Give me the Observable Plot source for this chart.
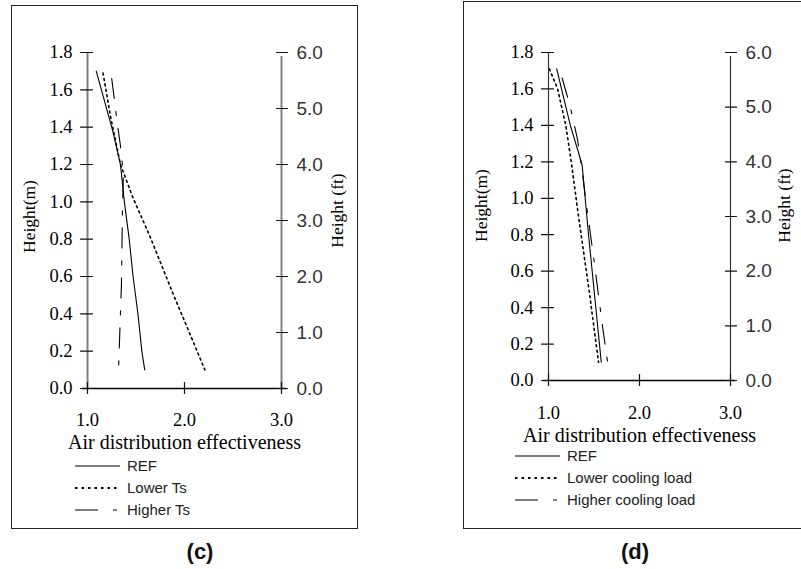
<!DOCTYPE html>
<html>
<head>
<meta charset="utf-8">
<script src="https://cdn.jsdelivr.net/npm/d3@7"></script>
<script src="https://cdn.jsdelivr.net/npm/@observablehq/plot@0.6"></script>
<style>
  html, body { margin: 0; padding: 0; background: #fff; }
  #root { position: relative; width: 801px; height: 569px; overflow: hidden; background: #fff; }
  .box { position: absolute; border: 1.5px solid #222; box-sizing: border-box; }
  .plotwrap { position: absolute; width: 346px; }
  .plotwrap svg { max-width: none !important; }
  .caption { position: absolute; font-family: "Liberation Sans", Arial, sans-serif; font-weight: bold; font-size: 22px; color: #111; transform: translate(-50%, -50%); }
  .legend { position: absolute; left: 0; top: 0; }
</style>
</head>
<body>
<div id="root"></div>
<script>
// ---------- DATA ----------
// Panel (c)
const cRefX    = [1.09, 1.17, 1.26, 1.34, 1.38, 1.43, 1.47, 1.52, 1.56, 1.59];
const cRefY    = [1.70, 1.55, 1.38, 1.20, 1.00, 0.80, 0.60, 0.40, 0.20, 0.10];
const cLowerX  = [1.16, 1.24, 1.34, 1.47, 1.64, 1.88, 2.05, 2.21];
const cLowerY  = [1.69, 1.45, 1.20, 1.02, 0.82, 0.51, 0.30, 0.10];
const cHigherX = [1.25, 1.31, 1.34, 1.37, 1.36, 1.35, 1.32];
const cHigherY = [1.66, 1.41, 1.30, 1.15, 0.94, 0.56, 0.10];
const cLegend  = ["REF", "Lower Ts", "Higher Ts"];
// Panel (d)
const dRefX    = [1.09, 1.24, 1.33, 1.37, 1.44, 1.51, 1.58];
const dRefY    = [1.71, 1.40, 1.25, 1.18, 0.80, 0.45, 0.10];
const dLowerX  = [1.01, 1.10, 1.19, 1.25, 1.33, 1.45, 1.55];
const dLowerY  = [1.71, 1.60, 1.40, 1.20, 0.90, 0.48, 0.10];
const dHigherX = [1.15, 1.24, 1.32, 1.37, 1.41, 1.50, 1.59, 1.65];
const dHigherY = [1.66, 1.50, 1.32, 1.15, 0.99, 0.66, 0.31, 0.10];
const dLegend  = ["REF", "Lower cooling load", "Higher cooling load"];
// Axes
const xTicks   = [1.0, 2.0, 3.0];
const mTicks   = [0.0, 0.2, 0.4, 0.6, 0.8, 1.0, 1.2, 1.4, 1.6, 1.8];
const ftTicks  = [0.0, 1.0, 2.0, 3.0, 4.0, 5.0, 6.0];
const M_PER_FT_AXIS = 1.8 / 6.0;  // right axis: 6.0 ft aligned with 1.8 m
const xTitle   = "Air distribution effectiveness";
const yTitleL  = "Height(m)";
const yTitleR  = "Height (ft)";

// ---------- STYLES ----------
const SERIF = "Liberation Serif, Times New Roman, serif";
const SANS  = "Liberation Sans, Arial, sans-serif";
const lineStyles = [
  {dash: null,            width: 1.1, legendDash: null,          legendWidth: 1.1},
  {dash: "2,3.5",         width: 1.6, legendDash: "2.5,4",       legendWidth: 2},
  {dash: "20,13,4,13",    width: 1.1, legendDash: "23,15,4,15",  legendWidth: 1.1}
];

const panels = [
  {
    series: [[cRefX, cRefY], [cLowerX, cLowerY], [cHigherX, cHigherY]],
    legend: cLegend, caption: "(c)",
    box: {left: 11, top: 5, w: 347, h: 524},
    axL: 87, axR: 281, yTop: 52, yBot: 388,
    sideStroke: "#808080", sideWidth: 2,
    xPad: 24, titleDy: 54,
    yLab: {ldx: -58.5, ldy: -4, rdx: 56, rdy: -10},
    legendX: 75, legendY: [466, 488, 510], captionX: 200, captionY: 552
  },
  {
    series: [[dRefX, dRefY], [dLowerX, dLowerY], [dHigherX, dHigherY]],
    legend: dLegend, caption: "(d)",
    box: {left: 463, top: 1, w: 360, h: 528},
    axL: 548, axR: 730, yTop: 52, yBot: 380,
    sideStroke: "#333", sideWidth: 1.2,
    xPad: 25, titleDy: 55,
    yLab: {ldx: -67, ldy: -11, rdx: 54, rdy: -11},
    legendX: 515, legendY: [456, 478, 500], captionX: 635, captionY: 552
  }
];

const root = document.getElementById("root");
const tickShape = {draw(ctx, l) { ctx.moveTo(0, 0); ctx.lineTo(0, -l); }};

for (const p of panels) {
  const box = document.createElement("div");
  box.className = "box";
  Object.assign(box.style, {left: p.box.left + "px", top: p.box.top + "px", width: p.box.w + "px", height: p.box.h + "px"});
  root.appendChild(box);

  const svgLeft = p.box.left, svgTop = p.box.top;
  const width = 346;
  const height = 470;
  const marginLeft = p.axL - svgLeft;
  const marginRight = width - (p.axR - svgLeft);
  const marginTop = p.yTop - svgTop;
  const marginBottom = height - (p.yBot - svgTop);

  const marks = [
    // axis lines
    Plot.ruleX([xTicks[0]], {stroke: p.sideStroke, strokeWidth: p.sideWidth}),
    Plot.ruleX([xTicks[xTicks.length - 1]], {stroke: p.sideStroke, strokeWidth: p.sideWidth, y1: 0, y2: 1.8, insetBottom: -4}),
    Plot.ruleY([mTicks[0]], {stroke: "#000", strokeWidth: 1.3, insetLeft: -5, insetRight: -5}),
    // cross ticks
    Plot.vector(mTicks, {y: d => d, frameAnchor: "left", rotate: 90, length: 12, anchor: "start", dx: -7, shape: tickShape, stroke: "#111", strokeWidth: 1.2}),
    Plot.vector(ftTicks.map(f => f * M_PER_FT_AXIS), {y: d => d, frameAnchor: "right", rotate: 90, length: 11, anchor: "start", dx: -5, shape: tickShape, stroke: "#111", strokeWidth: 1.2}),
    Plot.vector(xTicks, {x: d => d, frameAnchor: "bottom", rotate: 0, length: 11, anchor: "start", dy: 5, shape: tickShape, stroke: "#111", strokeWidth: 1.2}),
    // tick labels
    Plot.axisY({anchor: "left", ticks: mTicks, tickSize: 0, tickPadding: 15, tickFormat: d3.format(".1f"), fontFamily: SERIF, fontSize: 18.5, fill: "#000", label: null}),
    Plot.axisY({anchor: "right", ticks: ftTicks.map(f => f * M_PER_FT_AXIS), tickSize: 0, tickPadding: 15, tickFormat: d => d3.format(".1f")(d / M_PER_FT_AXIS), fontFamily: SANS, fontSize: 19, fill: "#333", label: null}),
    Plot.axisX({anchor: "bottom", ticks: xTicks, tickSize: 0, tickPadding: p.xPad, tickFormat: d3.format(".1f"), fontFamily: SERIF, fontSize: 18.5, fill: "#000", label: null}),
    // titles
    Plot.text([xTitle], {text: d => d, frameAnchor: "bottom", dy: p.titleDy, lineAnchor: "middle", textAnchor: "middle", fontFamily: SERIF, fontSize: 20, fill: "#000"}),
    Plot.text([yTitleL], {text: d => d, frameAnchor: "left", dx: p.yLab.ldx, dy: p.yLab.ldy, rotate: -90, lineAnchor: "middle", textAnchor: "middle", fontFamily: SERIF, fontSize: 17.5, fill: "#000"}),
    Plot.text([yTitleR], {text: d => d, frameAnchor: "right", dx: p.yLab.rdx, dy: p.yLab.rdy, rotate: -90, lineAnchor: "middle", textAnchor: "middle", fontFamily: SERIF, fontSize: 17.5, fill: "#000"})
  ];
  p.series.forEach(([xs, ys], i) => {
    const st = lineStyles[i];
    marks.push(Plot.line({length: xs.length}, {x: xs, y: ys, stroke: "#000", strokeWidth: st.width, strokeDasharray: st.dash}));
  });

  const chart = Plot.plot({
    width, height, marginLeft, marginRight, marginTop, marginBottom,
    x: {domain: [xTicks[0], xTicks[xTicks.length - 1]], axis: null},
    y: {domain: [mTicks[0], mTicks[mTicks.length - 1]], axis: null},
    style: {background: "transparent", overflow: "visible", maxWidth: "none"},
    marks
  });
  const wrap = document.createElement("div");
  wrap.className = "plotwrap";
  wrap.style.left = svgLeft + "px";
  wrap.style.top = svgTop + "px";
  wrap.appendChild(chart);
  root.appendChild(wrap);

  // legend
  const lg = d3.select(root).append("svg").attr("class", "legend").attr("width", 801).attr("height", 569)
    .style("position", "absolute").style("left", "0px").style("top", "0px").style("pointer-events", "none");
  p.legend.forEach((name, i) => {
    const st = lineStyles[i];
    const y = p.legendY[i];
    lg.append("line").attr("x1", p.legendX).attr("x2", p.legendX + 45).attr("y1", y).attr("y2", y)
      .attr("stroke", "#000").attr("stroke-width", st.legendWidth).attr("stroke-dasharray", st.legendDash);
    lg.append("text").attr("x", p.legendX + 52).attr("y", y).attr("dy", "0.35em")
      .attr("font-family", SANS).attr("font-size", 15).attr("fill", "#222").text(name);
  });

  const cap = document.createElement("div");
  cap.className = "caption";
  cap.style.left = p.captionX + "px";
  cap.style.top = p.captionY + "px";
  cap.textContent = p.caption;
  root.appendChild(cap);
}
</script>
</body>
</html>
